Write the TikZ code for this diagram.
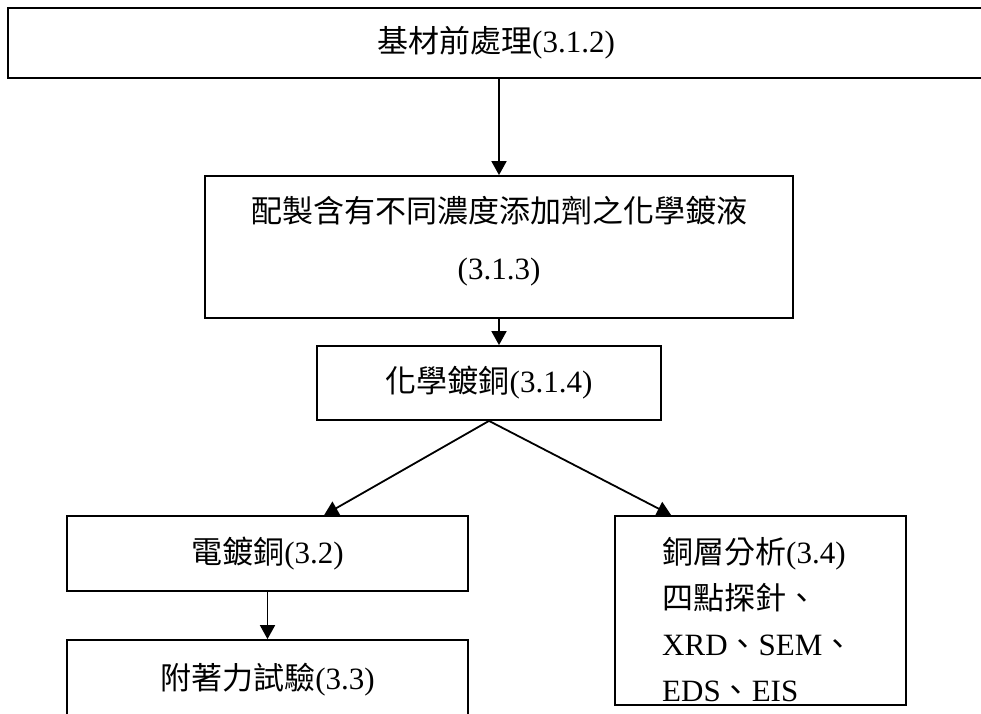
\documentclass[tikz,border=0pt]{standalone}
\usepackage{fontspec}
\setmainfont{Liberation Serif}
\newfontfamily\cjk{Noto Sans CJK TC}
\usetikzlibrary{arrows.meta}
\begin{document}
\begin{tikzpicture}[x=1pt,y=-1pt,
  box/.style={draw, line width=1.8pt, inner sep=0pt, align=center, font=\fontsize{31}{37}\selectfont},
  arr/.style={line width=1.8pt, -{Triangle[length=14pt,width=15pt]}}]
\clip (0,0) rectangle (981,713);
\node[box, minimum width=976pt, minimum height=70pt] (pre) at (496,43) {{\cjk 基材前處理}(3.1.2)};
\node[box, minimum width=588pt, minimum height=142pt, font=\fontsize{31}{57}\selectfont, text depth=18pt] (prep) at (499,247) {{\cjk 配製含有不同濃度添加劑之化學鍍液}\\(3.1.3)};
\node[box, minimum width=344pt, minimum height=74pt] (cu) at (489,383) {{\cjk 化學鍍銅}(3.1.4)};
\node[box, minimum width=401pt, minimum height=75pt] (plate) at (267.5,553.5) {{\cjk 電鍍銅}(3.2)};
\node[box, minimum width=401pt, minimum height=80pt] (adh) at (267.5,680) {{\cjk 附著力試驗}(3.3)};
\node[box, minimum width=291pt, minimum height=189pt] (ana) at (760.5,610.5) {};
\node[anchor=north west, inner sep=0pt, align=left, font=\fontsize{31}{46}\selectfont] (anatxt) at (662,537)
  {{\cjk 銅層分析}(3.4)\\{\cjk 四點探針、}\\XRD{\cjk 、}SEM{\cjk 、}\\EDS{\cjk 、}EIS};
\path (plate.north west) ++(258,0) coordinate (pin);
\path (ana.north west) ++(57,0) coordinate (ain);
\draw[arr] (pre.south -| prep.north) -- (prep.north);
\draw[arr] (prep.south) -- (prep.south |- cu.north);
\draw[arr] (cu.south) -- (pin);
\draw[arr] (cu.south) -- (ain);
\draw[arr] (plate.south) -- (adh.north);
\end{tikzpicture}
\end{document}
